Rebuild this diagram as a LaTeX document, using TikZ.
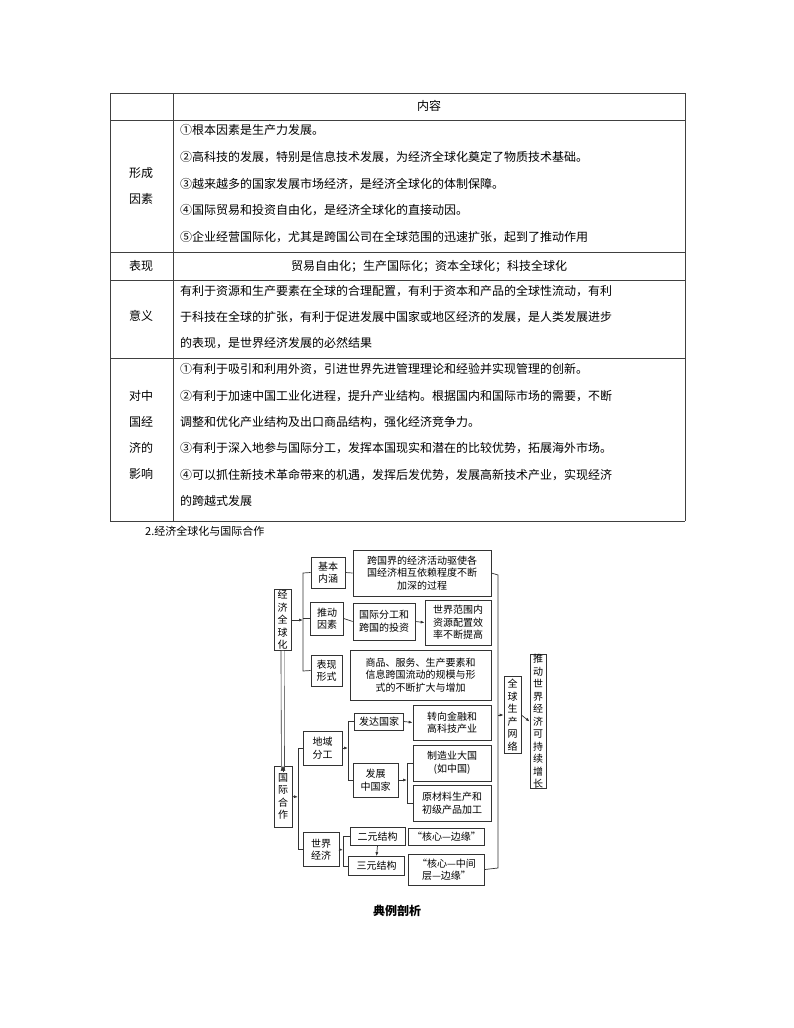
\documentclass[tikz,border=0pt]{standalone}
\usepackage{fontspec}
\setmainfont{Noto Sans CJK SC}
\usetikzlibrary{arrows.meta}
\begin{document}
\begin{tikzpicture}[x=1pt,y=-1pt,
  tl/.style={draw=black!75,line width=0.8pt},
  tx/.style={font=\fontsize{12}{14}\selectfont,anchor=west,inner sep=0},
  lc/.style={font=\fontsize{12}{26}\selectfont,align=center,inner sep=0},
  bx/.style={draw=black!80,line width=0.7pt,inner sep=0,align=center,font=\fontsize{10}{12.5}\selectfont},
  ln/.style={draw=black!80,line width=0.7pt},
  ar/.style={ln,-{Latex[length=4pt,width=3pt]}}]
\useasboundingbox (0,0) rectangle (794,1028);
% table
\draw[tl] (110,93) -- (685,93) (110,120) -- (685,120) (110,252) -- (685,252)
  (110,280) -- (685,280) (110,358) -- (685,358) (110,521) -- (685,521)
  (110,93) -- (110,521) (173,93) -- (173,521) (685,93) -- (685,521);
\node[lc] (h1) at (429,106) {内容};
\node[lc] (r1) at (141,186) {形成\\因素};
\node[tx] (a1) at (180,130) {①根本因素是生产力发展。};
\node[tx] (a2) at (180,157) {②高科技的发展，特别是信息技术发展，为经济全球化奠定了物质技术基础。};
\node[tx] (a3) at (180,184) {③越来越多的国家发展市场经济，是经济全球化的体制保障。};
\node[tx] (a4) at (180,210) {④国际贸易和投资自由化，是经济全球化的直接动因。};
\node[tx] (a5) at (180,237) {⑤企业经营国际化，尤其是跨国公司在全球范围的迅速扩张，起到了推动作用};
\node[lc] (r2) at (141,266) {表现};
\node[lc] (b1) at (429,266) {贸易自由化；生产国际化；资本全球化；科技全球化};
\node[lc] (r3) at (141,316) {意义};
\node[tx] (c1) at (180,291) {有利于资源和生产要素在全球的合理配置，有利于资本和产品的全球性流动，有利};
\node[tx] (c2) at (180,317) {于科技在全球的扩张，有利于促进发展中国家或地区经济的发展，是人类发展进步};
\node[tx] (c3) at (180,343) {的表现，是世界经济发展的必然结果};
\node[lc] (r4) at (141,435) {对中\\国经\\济的\\影响};
\node[tx] (d1) at (180,369) {①有利于吸引和利用外资，引进世界先进管理理论和经验并实现管理的创新。};
\node[tx] (d2) at (180,396) {②有利于加速中国工业化进程，提升产业结构。根据国内和国际市场的需要，不断};
\node[tx] (d3) at (180,422) {调整和优化产业结构及出口商品结构，强化经济竞争力。};
\node[tx] (d4) at (180,448) {③有利于深入地参与国际分工，发挥本国现实和潜在的比较优势，拓展海外市场。};
\node[tx] (d5) at (180,475) {④可以抓住新技术革命带来的机遇，发挥后发优势，发展高新技术产业，实现经济};
\node[tx] (d6) at (180,501) {的跨越式发展};
\node[tx,font=\fontsize{11}{13}\selectfont] (sec) at (145,531) {2.经济全球化与国际合作};
% diagram
\node[bx,minimum width=17,minimum height=61] (jj) at (282.5,620) {经\\济\\全\\球\\化};
\node[bx,minimum width=34,minimum height=31] (jb) at (328,572.5) {基本\\内涵};
\node[bx,minimum width=138,minimum height=46] (t1) at (422,573) {跨国界的经济活动驱使各\\国经济相互依赖程度不断\\加深的过程};
\node[bx,minimum width=33,minimum height=33] (td) at (327,618.5) {推动\\因素};
\node[bx,minimum width=62,minimum height=37] (t2) at (384,621.5) {国际分工和\\跨国的投资};
\node[bx,minimum width=66,minimum height=45] (t3) at (458,622.5) {世界范围内\\资源配置效\\率不断提高};
\node[bx,minimum width=31,minimum height=31] (bx1) at (326.5,670.5) {表现\\形式};
\node[bx,minimum width=141,minimum height=50] (t4) at (420.5,675) {商品、服务、生产要素和\\信息跨国流动的规模与形\\式的不断扩大与增加};
\node[bx,minimum width=17,minimum height=77] (qq) at (512.5,715) {全\\球\\生\\产\\网\\络};
\node[bx,minimum width=16,minimum height=133] (tw) at (538,721.5) {推\\动\\世\\界\\经\\济\\可\\持\\续\\增\\长};
\node[bx,minimum width=18,minimum height=61] (gj) at (283,796.5) {国\\际\\合\\作};
\node[bx,minimum width=39,minimum height=34] (dy) at (322.5,748) {地域\\分工};
\node[bx,minimum width=36,minimum height=34] (sj) at (321,849.5) {世界\\经济};
\node[bx,minimum width=49,minimum height=17] (fd) at (379,721.5) {发达国家};
\node[bx,minimum width=45,minimum height=34] (fz) at (375.5,780) {发展\\中国家};
\node[bx,minimum width=78,minimum height=35] (zx) at (452,722.5) {转向金融和\\高科技产业};
\node[bx,minimum width=78,minimum height=36] (zz) at (452,763) {制造业大国\\(如中国)};
\node[bx,minimum width=78,minimum height=36] (yc) at (452,803) {原材料生产和\\初级产品加工};
\node[bx,minimum width=55,minimum height=18] (ey) at (377.5,836.5) {二元结构};
\node[bx,minimum width=56,minimum height=19] (sy) at (376.5,866) {三元结构};
\node[bx,minimum width=76,minimum height=17] (hb) at (446.5,836.5) {“核心—边缘”};
\node[bx,minimum width=76,minimum height=31] (hz) at (446.5,869.5) {“核心—中间\\层—边缘”};
\node[font=\bfseries\fontsize{12}{14}\selectfont,inner sep=0] (dl) at (397,911) {典例剖析};
% connectors
\coordinate (b1t) at (303,573); \coordinate (b1b) at (303,671);
\draw[ln] (jb.west) -- (b1t) -- (b1b) -- (bx1.west);
\draw[ln] (td.west) -- (303,618.5);
\draw[ar] (jj.east) -- (303,620);
\draw[ln] (jb.east) -- (t1.west);
\draw[ln] (td.east) -- (t2.west);
\draw[ar] (t2.east) -- (t3.west);
\coordinate (rt) at (498,575); \coordinate (rb) at (498,868);
\draw[ln] (t1.east) -- (rt) -- (rb) -- (hz.east);
\draw[ar] (498,715) -- (qq.west);
\draw[ar] (qq.east) -- (tw.west);
\draw[ln,double,double distance=2.5pt,line width=0.6pt] (jj.south) -- ([yshift=-5pt]gj.north);
\draw[ln,-{Latex[length=5pt,width=5pt]}] ([yshift=-6pt]gj.north) -- (gj.north);
\draw[ln] (dy.west) -- (298,748) -- (298,849.5) -- (sj.west);
\draw[ar] (gj.east) -- (298,797);
\draw[ln] (fd.west) -- (348,721.5) -- (348,780) -- (fz.west);
\draw[ar] (dy.east) -- (348,748);
\draw[ar] (fd.east) -- (zx.west);
\draw[ln] (zz.west) -- (407,763) -- (407,803) -- (yc.west);
\draw[ar] (fz.east) -- (407,780);
\draw[ln] (ey.west) -- (343,836.5) -- (343,866) -- (sy.west);
\draw[ar] (sj.east) -- (343,850);
\draw[ar] (ey.south) -- (sy.north);
\end{tikzpicture}
\end{document}
